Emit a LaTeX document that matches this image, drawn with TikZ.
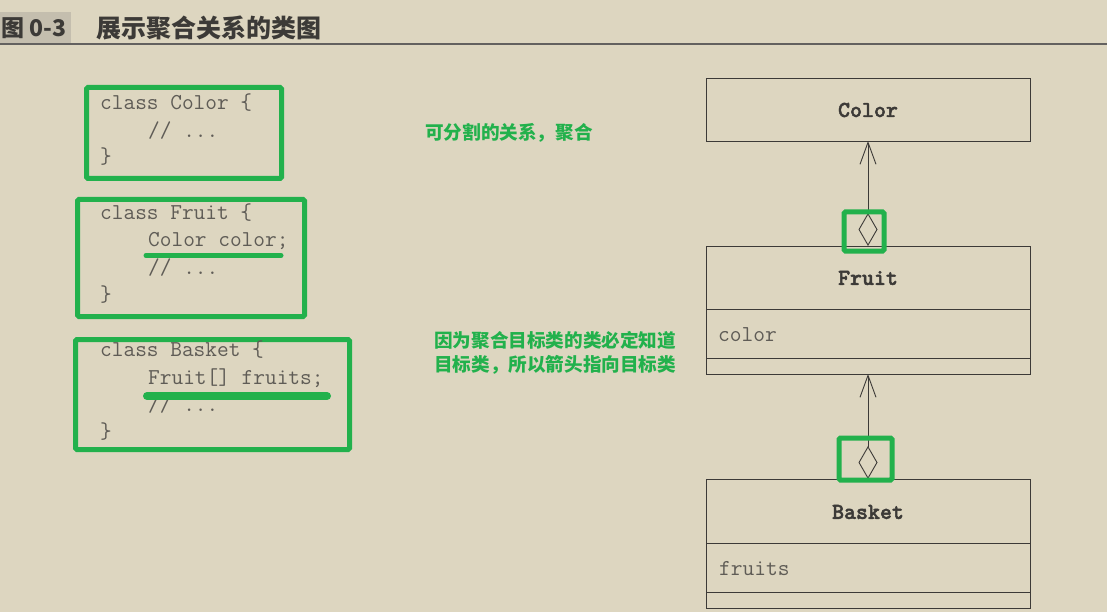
\documentclass[tikz,border=0pt]{standalone}
\usepackage{fontspec}
\newfontfamily\cjk{Noto Sans CJK SC}
\newfontfamily\tmono{Latin Modern Mono}
\newfontfamily\bmono{lmmonolt10-bold.otf}[FakeBold=2]
\usetikzlibrary{arrows.meta}
\definecolor{bg}{RGB}{221,214,192}
\definecolor{hlgreen}{RGB}{34,177,76}
\definecolor{codegray}{RGB}{95,92,86}
\definecolor{uml}{RGB}{60,58,55}
\definecolor{titlebox}{RGB}{196,190,174}
\tikzset{
  codeline/.style={anchor=base west, inner sep=0pt, text=codegray, font=\tmono\fontsize{22.7}{24}\selectfont},
  hlbox/.style={draw=hlgreen, line width=5pt, rounded corners=1.5pt},
  hlline/.style={draw=hlgreen, line cap=round},
  note/.style={anchor=west, inner sep=0pt, text=hlgreen, font=\cjk\bfseries\fontsize{18.6}{24}\selectfont},
  umlbox/.style={draw=uml, line width=0.9pt},
  umlname/.style={inner sep=0pt, text=uml, font=\bmono\fontsize{22.8}{24}\selectfont},
  umlattr/.style={anchor=base west, inner sep=0pt, text=codegray, font=\tmono\fontsize{22.8}{24}\selectfont},
  aggr/.style={draw=uml, line width=0.9pt, {Diamond[open,length=33pt,width=19pt,line width=0.9pt]}-{Straight Barb[length=22pt,width=16pt,line width=0.9pt]}},
}
\begin{document}
\begin{tikzpicture}[x=1pt,y=-1pt]
\useasboundingbox (0,0) rectangle (1107,612);
\fill[bg] (0,0) rectangle (1107,612);

% title
\fill[titlebox] (0,12) rectangle (71,44);
\node[anchor=west, inner sep=0pt, text=uml, font=\cjk\bfseries\fontsize{23}{26}\selectfont] (fig) at (1,28) {图 0-3};
\node[anchor=west, inner sep=0pt, text=uml, font=\cjk\bfseries\fontsize{25}{28}\selectfont] (title) at (96,28) {展示聚合关系的类图};
\draw[uml!80, line width=1.3pt] (0,44) -- (1107,44);

% code boxes
\draw[hlbox] (86.5,87.5) rectangle (281.5,178.5);
\node[codeline] (c1a) at (100,110) {class Color \{};
\node[codeline] (c1b) at (148,138) {// ...};
\node[codeline] (c1c) at (100,164) {\}};

\draw[hlbox] (77.5,199.5) rectangle (304.5,316.5);
\node[codeline] (c2a) at (100,219) {class Fruit \{};
\node[codeline] (c2b) at (148,246) {Color color;};
\node[codeline] (c2c) at (148,274) {// ...};
\node[codeline] (c2d) at (100,301) {\}};
\draw[hlline, line width=5pt] (146,255.5) -- (281,255.5);

\draw[hlbox] (75.5,339.5) rectangle (349.5,449.5);
\node[codeline] (c3a) at (100,356) {class Basket \{};
\node[codeline] (c3b) at (148,384) {Fruit[] fruits;};
\node[codeline] (c3c) at (148,411) {// ...};
\node[codeline] (c3d) at (100,438) {\}};
\draw[hlline, line width=8pt] (147,396) -- (327,396);

% notes
\node[note] (n1) at (425,133) {可分割的关系，聚合};
\node[note] (n2) at (434,340) {因为聚合目标类的类必定知道};
\node[note] (n3) at (434,365) {目标类，所以箭头指向目标类};

% UML
\draw[umlbox] (706,78) rectangle (1030,141);
\node[umlname] (color) at (868,110) {Color};
\coordinate (colorS) at (868,141);

\draw[umlbox] (706,246) rectangle (1030,374);
\draw[umlbox] (706,309) -- (1030,309);
\draw[umlbox] (706,358) -- (1030,358);
\node[umlname] (fruit) at (868,278) {Fruit};
\node[umlattr] (fruitattr) at (718,341) {color};
\coordinate (fruitN) at (868,246);
\coordinate (fruitS) at (868,374);

\draw[umlbox] (706,479) rectangle (1030,608);
\draw[umlbox] (706,543) -- (1030,543);
\draw[umlbox] (706,592) -- (1030,592);
\node[umlname] (basket) at (868,512) {Basket};
\node[umlattr] (basketattr) at (719,575) {fruits};
\coordinate (basketN) at (868,479);

\draw[aggr] (fruitN) -- (colorS);
\draw[aggr] (basketN) -- (fruitS);

% highlight squares
\draw[hlbox] (844,212) rectangle (884,251);
\draw[hlbox] (839,438) rectangle (892,480);
\end{tikzpicture}
\end{document}
